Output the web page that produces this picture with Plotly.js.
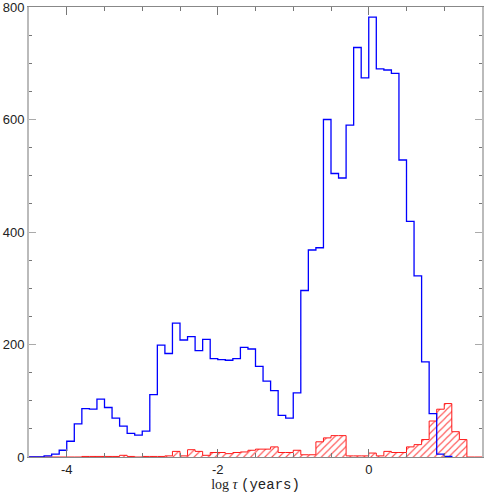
<!DOCTYPE html>
<html>
<head>
<meta charset="utf-8">
<script src="https://cdn.plot.ly/plotly-3.0.1.min.js"></script>
<style>
  html, body { margin: 0; padding: 0; background: #fff; }
  #chart { width: 484px; height: 496px; }
</style>
</head>
<body>
<div id="chart"></div>
<script>
// --- Data ---
// bin edges in log tau (years), width 0.1
const binEdges = [
  -4.5, -4.4, -4.3, -4.2, -4.1, -4.0, -3.9, -3.8, -3.7, -3.6,
  -3.5, -3.4, -3.3, -3.2, -3.1, -3.0, -2.9, -2.8, -2.7, -2.6,
  -2.5, -2.4, -2.3, -2.2, -2.1, -2.0, -1.9, -1.8, -1.7, -1.6,
  -1.5, -1.4, -1.3, -1.2, -1.1, -1.0, -0.9, -0.8, -0.7, -0.6,
  -0.5, -0.4, -0.3, -0.2, -0.1, 0.0, 0.1, 0.2, 0.3, 0.4,
  0.5, 0.6, 0.7, 0.8, 0.9, 1.0, 1.1, 1.2, 1.3, 1.4, 1.5
];

// blue histogram, bins from -4.5 up to 1.0
const blueCounts = [
  0, 0, 2, 5, 12, 28, 59, 86, 85, 103,
  88, 69, 55, 42, 39, 46, 111, 199, 184, 238,
  208, 214, 189, 209, 175, 173, 172, 175, 195, 192,
  161, 135, 118, 74, 69, 114, 296, 368, 372, 600,
  504, 496, 590, 728, 674, 782, 690, 688, 682, 528,
  419, 322, 169, 77, 5, 1
];

// red hatched histogram, all bins
const redCounts = [
  0, 0, 0, 0, 0, 0, 0, 1, 1, 1,
  1, 1, 3, 1, 0, 1, 1, 1, 2, 10,
  2, 13, 10, 3, 8, 8, 6, 8, 9, 12,
  14, 14, 18, 8, 8, 12, 4, 4, 27, 34,
  38, 38, 2, 2, 2, 7, 2, 10, 8, 8,
  18, 22, 31, 64, 85, 95, 45, 31, 0, 0
];

const xTicks = [-4, -2, 0];
const xTickLabels = ['-4', '-2', '0'];
const yTicks = [0, 200, 400, 600, 800];
const yTickLabels = ['0', '200', '400', '600', '800'];

// step outline: left edges plus closing edge
function stepTrace(counts, color, width) {
  const x = binEdges.slice(0, counts.length + 1);
  const y = counts.concat([0]);
  return {
    x: x, y: y,
    type: 'scatter', mode: 'lines',
    line: { shape: 'hv', color: color, width: width },
    hoverinfo: 'skip', showlegend: false
  };
}

const hatch = {
  x: binEdges.slice(0, redCounts.length),
  y: redCounts,
  type: 'bar',
  width: 0.1,
  offset: 0,
  marker: {
    color: 'rgba(0,0,0,0)',
    line: { width: 0 },
    pattern: { shape: '/', fgcolor: 'rgba(255,40,40,0.8)', bgcolor: 'rgba(0,0,0,0)', size: 5, solidity: 0.22 }
  },
  hoverinfo: 'skip', showlegend: false
};

const traces = [hatch, stepTrace(redCounts, '#ff1a1a', 1), stepTrace(blueCounts, '#0000ff', 1.3)];

const layout = {
  width: 484, height: 496,
  paper_bgcolor: '#fff', plot_bgcolor: '#fff',
  margin: { l: 29, r: 2, t: 7, b: 39 },
  bargap: 0,
  font: { family: 'Liberation Sans, Arial, sans-serif', size: 13, color: '#222' },
  xaxis: {
    range: [-4.5, 1.5],
    tickvals: xTicks, ticktext: xTickLabels,
    ticks: 'inside', ticklen: 8, tickcolor: '#777', tickwidth: 1,
    minor: { dtick: 0.5, ticks: 'inside', ticklen: 4, tickcolor: '#777' },
    showline: true, linecolor: '#888', linewidth: 1, mirror: 'ticks',
    showgrid: false, zeroline: false,
    title: {
      text: 'log <i>τ</i> <span style="font-family:\'Liberation Mono\'">(years)</span>',
      font: { family: 'Liberation Serif, serif', size: 14, color: '#222' },
      standoff: 3
    }
  },
  yaxis: {
    range: [0, 800],
    tickvals: yTicks, ticktext: yTickLabels,
    ticklabeloverflow: 'allow',
    ticks: 'inside', ticklen: 7, tickcolor: '#aaa', tickwidth: 1,
    minor: { dtick: 50, ticks: 'inside', ticklen: 3, tickcolor: '#777' },
    showline: true, linecolor: '#bbb', linewidth: 2, mirror: 'ticks',
    showgrid: false, zeroline: false
  }
};

Plotly.newPlot('chart', traces, layout, { displayModeBar: false, staticPlot: true });
</script>
</body>
</html>
